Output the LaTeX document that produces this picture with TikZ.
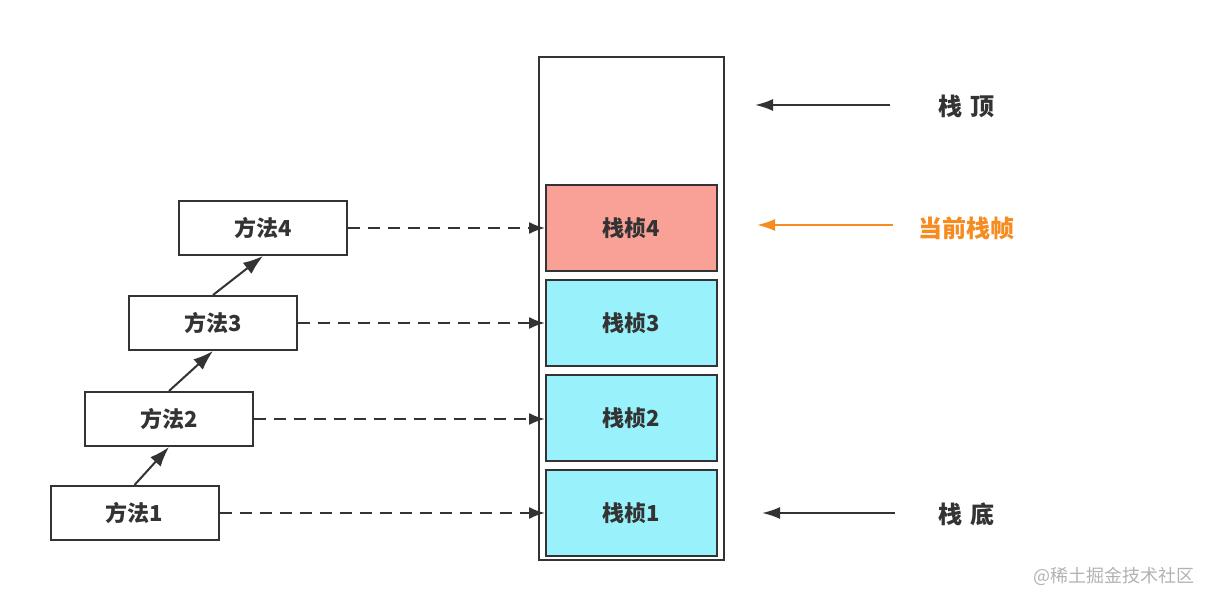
\documentclass[tikz,border=0pt]{standalone}
\usepackage{fontspec}
\setmainfont{Noto Sans CJK SC}
\usetikzlibrary{positioning,arrows.meta}
\definecolor{linegray}{HTML}{333333}
\definecolor{framered}{HTML}{F9A197}
\definecolor{framecyan}{HTML}{99F2FB}
\definecolor{curorange}{HTML}{F68B1F}

\begin{document}
\begin{tikzpicture}[x=0.5pt,y=-0.5pt,
    method/.style={draw=linegray, line width=1pt, minimum width=84pt, minimum height=27pt, inner sep=0pt, font=\bfseries\fontsize{11}{13}\selectfont, text=linegray},
    stackframe/.style={draw=linegray, line width=1pt, minimum width=85.5pt, minimum height=43pt, inner sep=0pt, font=\bfseries\fontsize{11}{13}\selectfont, text=linegray},
    call/.style={draw=linegray, line width=1pt, -{Latex[length=10pt,width=7pt]}},
    link/.style={draw=linegray, line width=1pt, dash pattern=on 6pt off 4pt, -{Latex[length=8pt,width=6pt]}},
    pointer/.style={draw=linegray, line width=1pt, -{Latex[length=9pt,width=6pt]}},
    mark label/.style={font=\bfseries\fontsize{12}{14}\selectfont, text=linegray}]
    \useasboundingbox (0,0) rectangle (1218,603);

    % methods
    \node[method] (m1) at (134.5,513) {方法1};
    \node[method] (m2) at (169,419) {方法2};
    \node[method] (m3) at (213,323) {方法3};
    \node[method] (m4) at (263,228) {方法4};

    % the stack
    \node[draw=linegray, line width=1pt, minimum width=92.5pt, minimum height=251.5pt, inner sep=0pt] (stack) at (631.5,308.5) {};
    \node[stackframe, fill=framecyan] (f1) at (631.5,513) {栈桢1};
    \node[stackframe, fill=framecyan] (f2) at (631.5,418) {栈桢2};
    \node[stackframe, fill=framecyan] (f3) at (631.5,323) {栈桢3};
    \node[stackframe, fill=framered] (f4) at (631.5,228) {栈桢4};

    \draw[call] (m1.north) -- (m2.south);
    \draw[call] (m2.north) -- (m3.south);
    \draw[call] (m3.north) -- (m4.south);

    \draw[link] (m1.east) -- (m1.east -| f1.west);
    \draw[link] (m2.east) -- (m2.east -| f2.west);
    \draw[link] (m3.east) -- (m3.east -| f3.west);
    \draw[link] (m4.east) -- (m4.east -| f4.west);

    % labels on the right
    \node[mark label] (top) at (966,106) {栈\,\,顶};
    \node[mark label, text=curorange] (cur) at (966,228) {当前栈帧};
    \node[mark label] (bottom) at (966,514) {栈\,\,底};
    \coordinate (ptop) at (755,105);
    \coordinate (qtop) at (890,105);
    \coordinate (pcur) at (757,225);
    \coordinate (qcur) at (893,225);
    \coordinate (pbottom) at (762,513);
    \coordinate (qbottom) at (895,513);
    \draw[pointer] (qtop) -- (ptop);
    \draw[pointer, draw=curorange, fill=curorange] (qcur) -- (pcur);
    \draw[pointer] (qbottom) -- (pbottom);

    \node[text=black!30, font=\fontsize{9}{11}\selectfont, anchor=east] (wm) at (1202,576) {@稀土掘金技术社区};
\end{tikzpicture}
\end{document}
